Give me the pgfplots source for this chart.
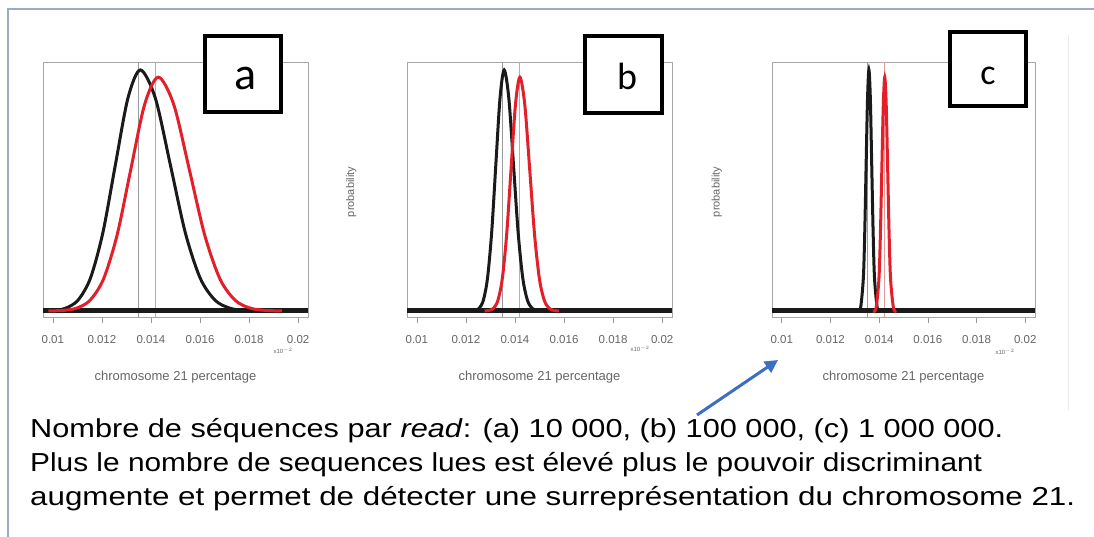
\documentclass[border=0pt]{standalone}
\usepackage{pgfplots}
\pgfplotsset{compat=1.18}
\usepackage{fontspec}
\setmainfont{Liberation Sans}
\newfontfamily\boxfont{Carlito}
\usetikzlibrary{arrows.meta}
\definecolor{rred}{HTML}{E3202A}
\definecolor{rblack}{HTML}{1A1A1A}
\definecolor{framec}{HTML}{9AABC8}
\definecolor{arrowblue}{HTML}{3C6FC2}
\definecolor{labgray}{HTML}{666666}
\definecolor{meangray}{HTML}{9A9A9A}
\definecolor{meanpink}{HTML}{E89A9A}

\pgfplotsset{
  panel/.style={
    scale only axis, width=265pt, height=255pt, anchor=south west,
    xmin=0.0096, xmax=0.0204, ymin=-0.025, ymax=1.033,
    axis line style={draw=gray!70, line width=0.8pt},
    xtick={0.01,0.012,0.014,0.016,0.018,0.02},
    xticklabels={0.01,0.012,0.014,0.016,0.018,0.02},
    scaled ticks=false, ytick=\empty, xtick pos=bottom,
    tick align=outside, major tick length=6pt,
    xtick style={draw=gray!80, line width=0.6pt},
    xticklabel style={font=\fontsize{11.5}{11.5}\selectfont, text=labgray, yshift=-9pt},
    xlabel={chromosome 21 percentage},
    xlabel style={font=\fontsize{13}{13}\selectfont, text=labgray,
      at={(axis description cs:0.5,-0.235)}, anchor=center},
    ylabel style={font=\fontsize{11}{11}\selectfont, text=labgray,
      at={(axis description cs:-0.21,0.49)}, anchor=center},
  },
  dens/.style={smooth, line width=3pt},
}

\begin{document}
\begin{tikzpicture}[x=1pt,y=1pt]
\useasboundingbox (0,0) rectangle (1094,537);
\fill[white] (0,0) rectangle (1094,537);
\draw[framec, line width=1.5pt] (8,0) -- (8,528) -- (1094,528);
\draw[black!8, line width=1pt] (1068,127) -- (1068,502);

% (a) 10 000 reads
\begin{axis}[panel, at={(43pt,220pt)}]
\addplot[meangray, line width=0.8pt] coordinates {(0.0135,-0.025) (0.0135,1.033)};
\addplot[meanpink, line width=0.8pt] coordinates {(0.0142,-0.025) (0.0142,1.033)};
\addplot[rblack, line width=5pt] coordinates {(0.0096,0) (0.0204,0)};
\addplot[dens, rblack] coordinates {
 (0.00949,0.0003) (0.0100,0.0022) (0.01051,0.0111) (0.01102,0.0439)
 (0.01153,0.1353) (0.01204,0.3247) (0.01255,0.6065) (0.01306,0.8825)
 (0.01357,1) (0.01418,0.8825) (0.01479,0.6065) (0.0154,0.3247)
 (0.01601,0.1353) (0.01662,0.0439) (0.01723,0.0111) (0.01784,0.0022) (0.01845,0.0003)};
\addplot[dens, rred] coordinates {
 (0.00982,0.0003) (0.01038,0.0021) (0.01094,0.0108) (0.0115,0.0426)
 (0.01206,0.1312) (0.01262,0.315) (0.01318,0.5883) (0.01374,0.856)
 (0.0143,0.97) (0.01493,0.856) (0.01556,0.5883) (0.01619,0.315)
 (0.01682,0.1312) (0.01745,0.0426) (0.01808,0.0108) (0.01871,0.0021) (0.01934,0.0003)};
\end{axis}

% (b) 100 000 reads
\begin{axis}[panel, at={(407pt,220pt)}, ylabel={probability}]
\addplot[meangray, line width=0.8pt] coordinates {(0.0135,-0.025) (0.0135,1.033)};
\addplot[meanpink, line width=0.8pt] coordinates {(0.0142,-0.025) (0.0142,1.033)};
\addplot[rblack, line width=5pt] coordinates {(0.0096,0) (0.0204,0)};
\addplot[dens, rblack] coordinates {
 (0.0122,0.0003) (0.01237,0.0022) (0.01254,0.0111) (0.01271,0.0439)
 (0.01288,0.1353) (0.01305,0.3247) (0.01322,0.6065) (0.01339,0.8825)
 (0.01356,1) (0.01375,0.8825) (0.01394,0.6065) (0.01413,0.3247)
 (0.01432,0.1353) (0.01451,0.0439) (0.0147,0.0111) (0.01489,0.0022) (0.01508,0.0003)};
\addplot[dens, rred] coordinates {
 (0.01276,0.0003) (0.01294,0.0021) (0.01312,0.0108) (0.0133,0.0426)
 (0.01348,0.1312) (0.01366,0.315) (0.01384,0.5883) (0.01402,0.856)
 (0.0142,0.97) (0.0144,0.856) (0.0146,0.5883) (0.0148,0.315)
 (0.015,0.1312) (0.0152,0.0426) (0.0154,0.0108) (0.0156,0.0021) (0.0158,0.0003)};
\end{axis}

% (c) 1 000 000 reads
\begin{axis}[panel, at={(772pt,220pt)}, width=263pt, ylabel={probability}]
\addplot[meangray, line width=0.8pt] coordinates {(0.0135,-0.025) (0.0135,1.033)};
\addplot[meanpink, line width=0.8pt] coordinates {(0.0142,-0.025) (0.0142,1.033)};
\addplot[rblack, line width=5pt] coordinates {(0.0096,0) (0.0204,0)};
\addplot[dens, rblack] coordinates {
 (0.01312,0.0003) (0.013235,0.0111) (0.01335,0.1353) (0.013408,0.3247)
 (0.013465,0.6065) (0.013523,0.8825) (0.01358,1) (0.013638,0.8825)
 (0.013695,0.6065) (0.013753,0.3247) (0.01381,0.1353) (0.013925,0.0111) (0.01404,0.0003)};
\addplot[dens, rred] coordinates {
 (0.01375,0.0003) (0.01387,0.0108) (0.01399,0.1312) (0.01405,0.315)
 (0.01411,0.5883) (0.01417,0.856) (0.01423,0.97) (0.01429,0.856)
 (0.01435,0.5883) (0.01441,0.315) (0.01447,0.1312) (0.01459,0.0108) (0.01471,0.0003)};
\end{axis}

% small exponent marks left by the plotting device
\node[font=\fontsize{6}{6}\selectfont, text=labgray] at (283,186) {x10$^{-2}$};
\node[font=\fontsize{6}{6}\selectfont, text=labgray] at (640,188) {x10$^{-2}$};
\node[font=\fontsize{6}{6}\selectfont, text=labgray] at (1005,185) {x10$^{-2}$};

% panel letters
\node[draw=black, line width=4pt, fill=white, minimum width=76pt, minimum height=76pt, inner sep=0pt] at (243,463) {};
\node[draw=black, line width=4pt, fill=white, minimum width=77pt, minimum height=77pt, inner sep=0pt] at (623.5,462.5) {};
\node[draw=black, line width=4pt, fill=white, minimum width=76pt, minimum height=74pt, inner sep=0pt] at (988,468) {};
\node[anchor=base, inner sep=0pt, font=\boxfont\fontsize{46}{46}\selectfont] at (246,447) {a};
\node[anchor=base, inner sep=0pt, font=\boxfont\fontsize{38}{38}\selectfont] at (627,447) {b};
\node[anchor=base, inner sep=0pt, font=\boxfont\fontsize{36}{36}\selectfont] at (988,452) {c};

% caption
\node[anchor=base west, inner sep=0pt] at (30,99) {\resizebox{973pt}{\height}{\fontsize{26}{26}\selectfont Nombre de séquences par \textit{read}: (a) 10 000, (b) 100 000, (c) 1 000 000.}};
\node[anchor=base west, inner sep=0pt] at (30,65) {\resizebox{952pt}{\height}{\fontsize{26}{26}\selectfont Plus le nombre de sequences lues est élevé plus le pouvoir discriminant}};
\node[anchor=base west, inner sep=0pt] at (30,31) {\resizebox{1045pt}{\height}{\fontsize{26}{26}\selectfont augmente et permet de détecter une surreprésentation du chromosome 21.}};

\draw[arrowblue, line width=3pt, -{Triangle[length=13pt, width=13pt]}] (697,122) -- (778,177);
\end{tikzpicture}
\end{document}
